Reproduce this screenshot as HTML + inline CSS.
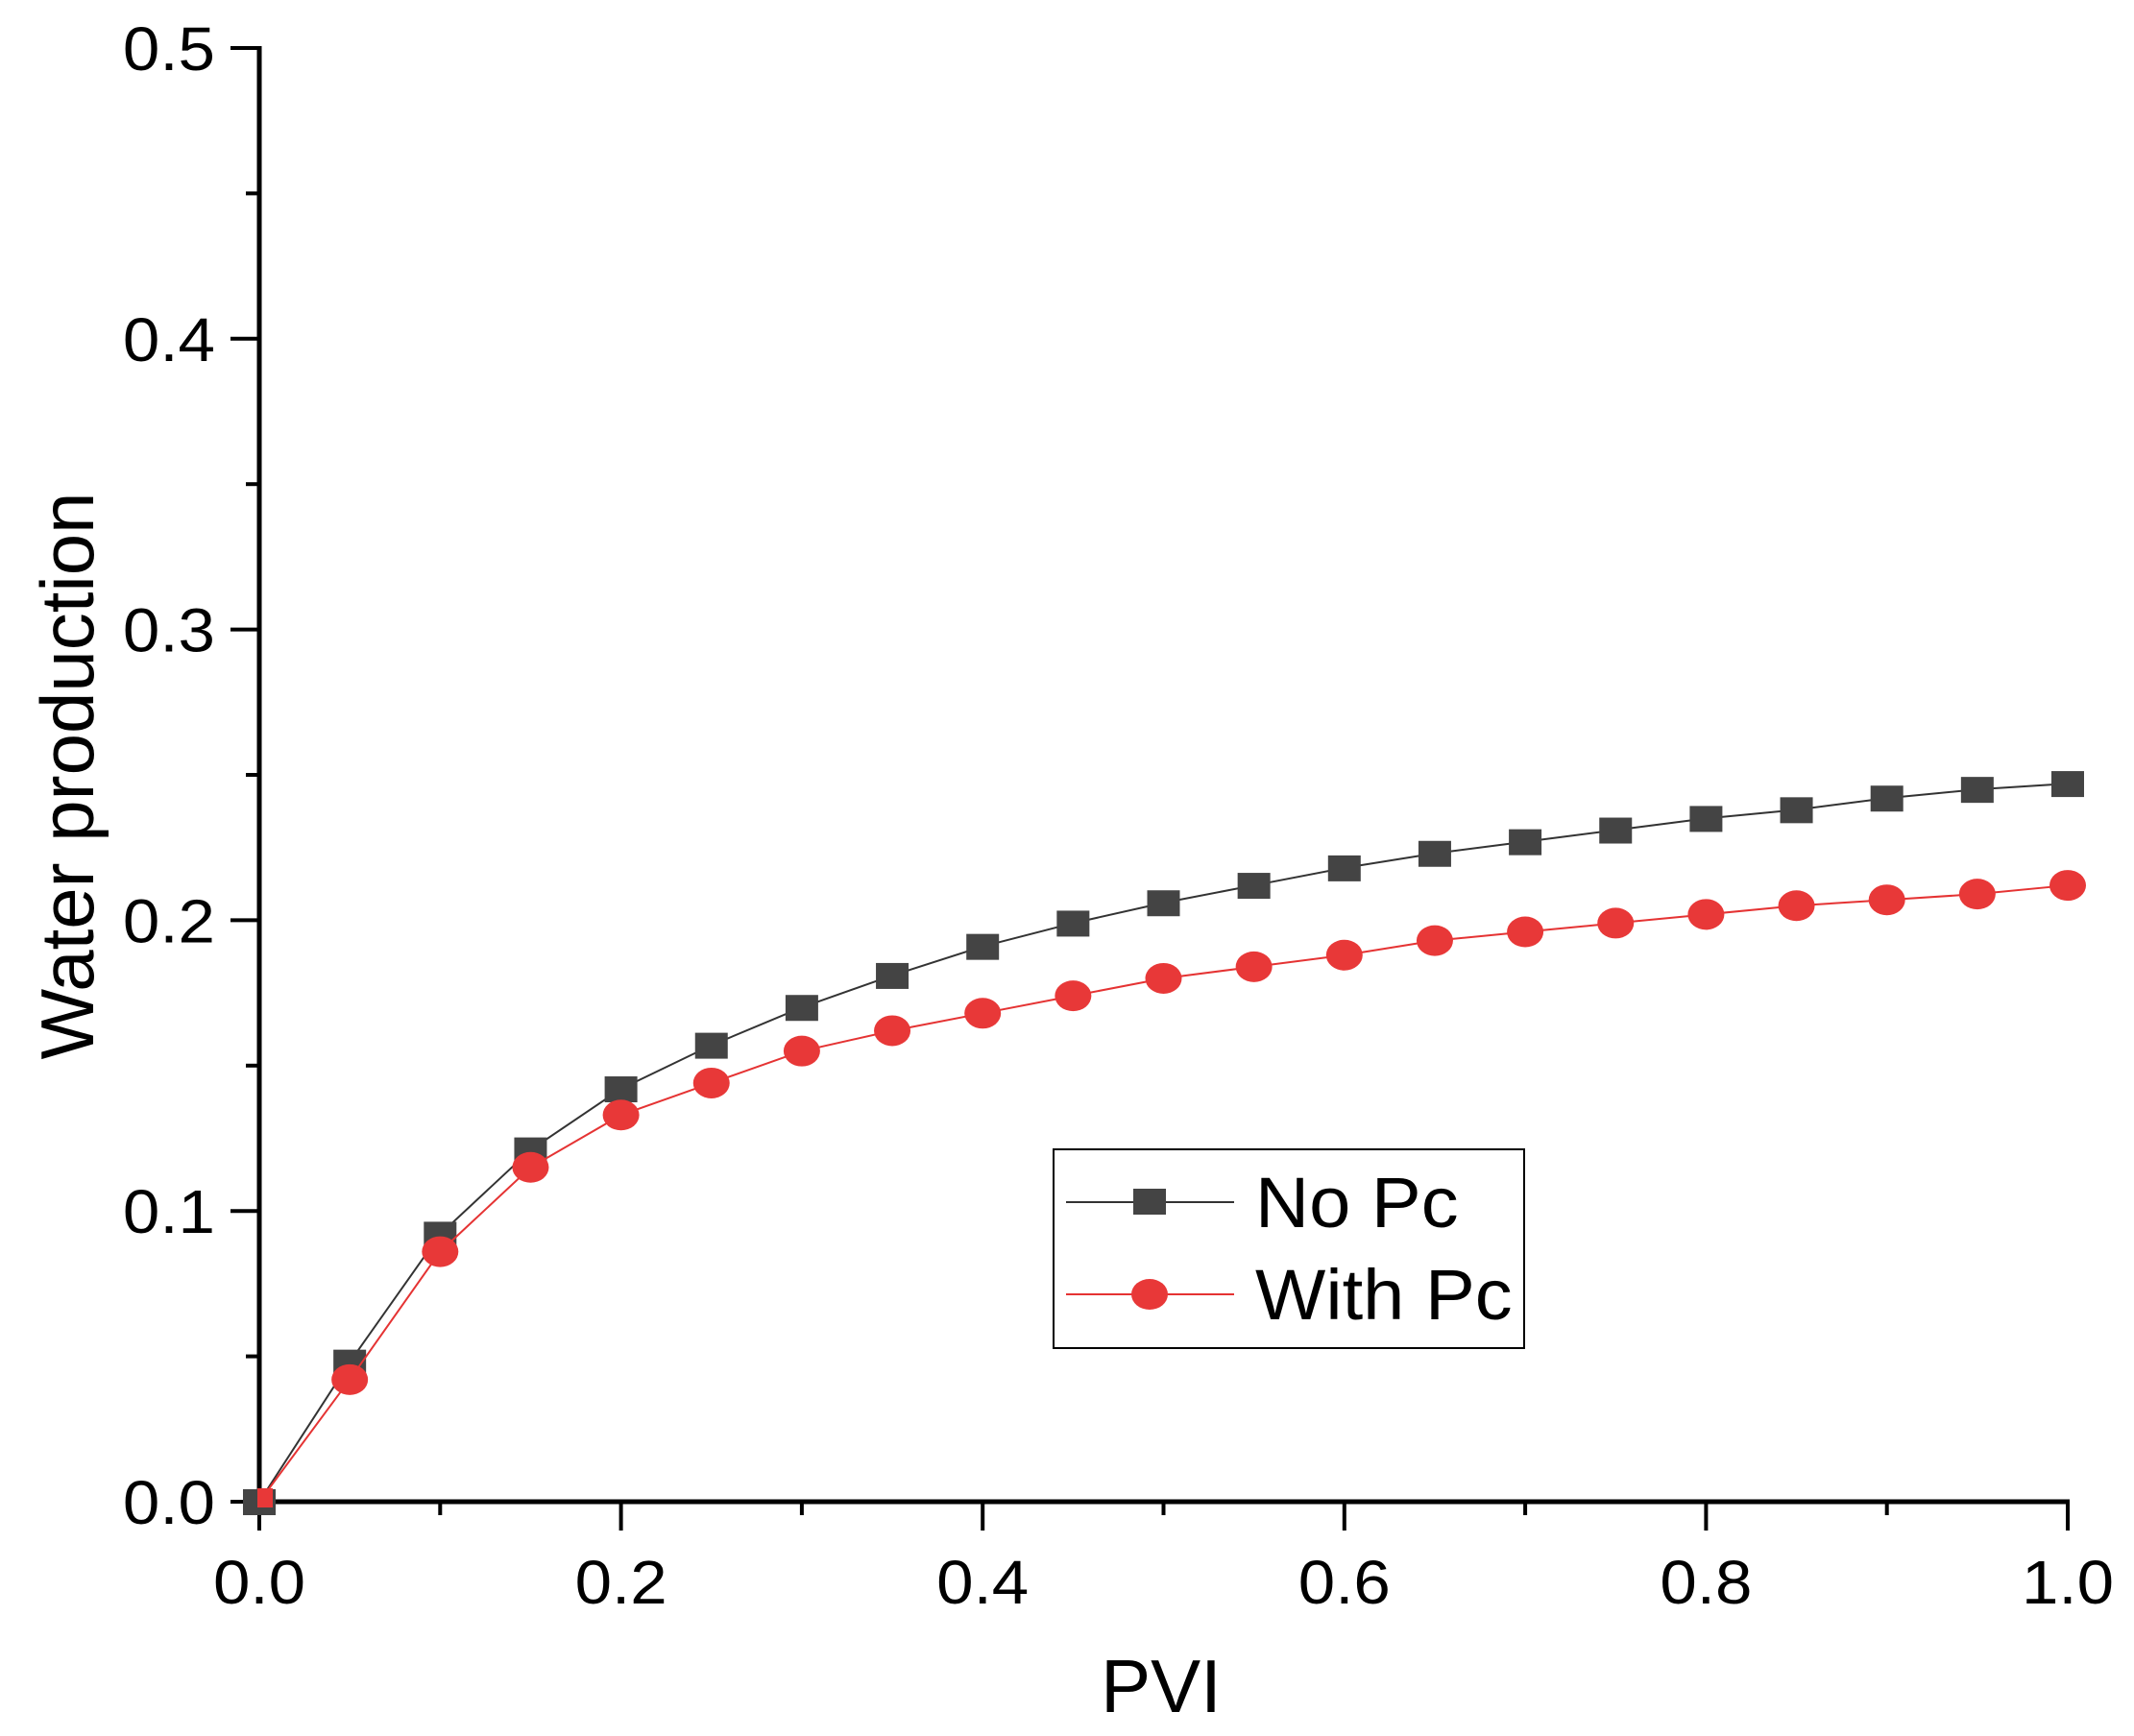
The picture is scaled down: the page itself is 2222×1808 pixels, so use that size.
<!DOCTYPE html>
<html><head><meta charset="utf-8"><style>
html,body{margin:0;padding:0;background:#fff;}
svg{display:block;font-family:"Liberation Sans",sans-serif;}
</style></head><body>
<svg id="chart" width="2222" height="1808" viewBox="0 0 2222 1808">
<g id="axes"></g><g id="series"></g>
<g>
<rect x="1097" y="1197" width="490" height="207" fill="#fff" stroke="#000" stroke-width="2"/>
<g>
<line x1="1110" y1="1252" x2="1285" y2="1252" stroke="#333" stroke-width="2"/>
<rect x="1180" y="1238" width="34" height="27" fill="#444"/>
<text x="1307" y="1278" font-size="74" fill="#000" transform="translate(1307,0) scale(1.05,1) translate(-1307,0)">No Pc</text></g>
<g>
<line x1="1110" y1="1348" x2="1285" y2="1348" stroke="#e53333" stroke-width="2"/>
<ellipse cx="1197" cy="1348" rx="19" ry="16" fill="#e83838"/>
<text x="1307" y="1374" font-size="74" fill="#000" transform="translate(1307,0) scale(1.05,1) translate(-1307,0)">With Pc</text></g>
</g>
<text x="1209" y="1783" font-size="78" text-anchor="middle">PVI</text>
<text transform="translate(97,808) rotate(-90)" font-size="78" text-anchor="middle">Water production</text>
</svg>
<script>
const xValues=[0,0.05,0.1,0.15,0.2,0.25,0.3,0.35,0.4,0.45,0.5,0.55,0.6,0.65,0.7,0.75,0.8,0.85,0.9,0.95,1.0];
const noPc=[0,0.048,0.092,0.121,0.142,0.157,0.170,0.181,0.191,0.199,0.206,0.212,0.218,0.223,0.227,0.231,0.235,0.238,0.242,0.245,0.247];
const withPc=[0,0.042,0.086,0.115,0.133,0.144,0.155,0.162,0.168,0.174,0.180,0.184,0.188,0.193,0.196,0.199,0.202,0.205,0.207,0.209,0.212];
const xTicks=["0.0","0.2","0.4","0.6","0.8","1.0"];
const yTicks=["0.0","0.1","0.2","0.3","0.4","0.5"];
const NS="http://www.w3.org/2000/svg";
const X0=270,X1=2153,Y0=1564,Y1=50;
function sx(v){return X0+v*(X1-X0);}
function sy(v){return Y0-v/0.5*(Y0-Y1);}
function mk(tag,attrs,parent){const e=document.createElementNS(NS,tag);for(const k in attrs)e.setAttribute(k,attrs[k]);parent.appendChild(e);return e;}
const axes=document.getElementById('axes');
let a=mk('line',{x1:X0,y1:Y0,x2:X1+2,y2:Y0,stroke:'#000','stroke-width':5},axes);


a=mk('line',{x1:X0,y1:Y1-2,x2:X0,y2:Y0+2,stroke:'#000','stroke-width':5},axes);


for(let i=0;i<=10;i++){const v=i/10;const major=i%2===0;
 const t=mk('line',{x1:sx(v),y1:Y0,x2:sx(v),y2:Y0+(major?30:14),stroke:'#000','stroke-width':4},axes);
 
 
 const u=mk('line',{x1:X0,y1:sy(v/2),x2:X0-(major?30:14),y2:sy(v/2),stroke:'#000','stroke-width':4},axes);
 
 }
xTicks.forEach(s=>{const x=sx(parseFloat(s));const e=mk('text',{x:x,y:1670,'font-size':64,'text-anchor':'middle',transform:`translate(${x},0) scale(1.08,1) translate(${-x},0)`},axes);e.textContent=s;
 
 });
yTicks.forEach(s=>{const e=mk('text',{x:224,y:sy(parseFloat(s))+23,'font-size':64,'text-anchor':'end',transform:`translate(224,0) scale(1.08,1) translate(-224,0)`},axes);e.textContent=s;
 
 });
const ser=document.getElementById('series');
function draw(vals,color,line,name,shape){
 const g=mk('g',{},ser);
 
 
 mk('polyline',{points:vals.map((v,i)=>sx(xValues[i])+','+sy(v)).join(' '),fill:'none',stroke:line,'stroke-width':2},g);
 vals.forEach((v,i)=>{let m;
  if(shape==='sq')m=mk('rect',{x:sx(xValues[i])-17,y:sy(v)-13,width:34,height:27,fill:color},g);
  else if(i===0)m=mk('rect',{x:sx(xValues[i])-2,y:sy(v)-14,width:16,height:20,fill:color},g);
  else m=mk('ellipse',{cx:sx(xValues[i]),cy:sy(v),rx:19,ry:16,fill:color},g);
  
  });
}
draw(noPc,'#444','#333','series-no-pc','sq');
draw(withPc,'#e83838','#e53333','series-with-pc','circ');
</script>
</body></html>
